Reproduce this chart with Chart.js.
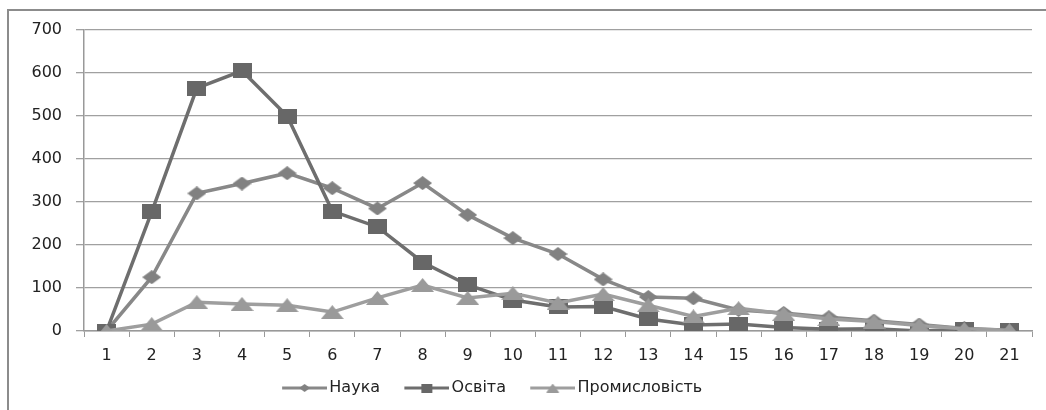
<!DOCTYPE html>
<html>
<head>
<meta charset="utf-8">
<script src="https://cdn.jsdelivr.net/npm/chart.js@4/dist/chart.umd.min.js"></script>
<style>
  html, body { margin: 0; padding: 0; background: #fff; }
  #chart { display: block; }
</style>
</head>
<body>
<canvas id="chart" width="1046" height="410"></canvas>
<script>
// categories on the x axis
const categories = ["1", "2", "3", "4", "5", "6", "7", "8", "9", "10", "11",
  "12", "13", "14", "15", "16", "17", "18", "19", "20", "21"];

// series
const nauka = [0, 125, 320, 343, 367, 332, 285, 344, 270, 216, 179, 120, 79,
  76, 49, 42, 32, 24, 15, 6, 2];
const osvita = [0, 277, 565, 605, 500, 279, 242, 160, 107, 72, 56, 57, 28,
  14, 16, 8, 4, 5, 0, 4, 2];
const promyslovist = [0, 16, 67, 63, 60, 44, 77, 107, 77, 88, 65, 86, 60,
  34, 53, 40, 28, 22, 13, 5, 2];

const seriesNames = ["Наука", "Освіта", "Промисловість"];
const yTicks = [0, 100, 200, 300, 400, 500, 600, 700];

const FONT = "DejaVu Sans";

// marker images (the picture is slightly stretched sideways, so are the marks)
function makeMarker(shape, w, h, color) {
  const c = document.createElement("canvas");
  c.width = w;
  c.height = h;
  const ctx = c.getContext("2d");
  ctx.fillStyle = color;
  ctx.beginPath();
  if (shape === "diamond") {
    ctx.moveTo(w / 2, 0);
    ctx.lineTo(w, h / 2);
    ctx.lineTo(w / 2, h);
    ctx.lineTo(0, h / 2);
  } else if (shape === "square") {
    ctx.rect(0, 0, w, h);
  } else {
    ctx.moveTo(w / 2, 0);
    ctx.lineTo(w, h);
    ctx.lineTo(0, h);
  }
  ctx.closePath();
  ctx.fill();
  return c;
}

// legend sample: short line with a small marker on it
function makeLegendSample(shape, lineColor, markColor) {
  const w = 65, h = 12;
  const c = document.createElement("canvas");
  c.width = w;
  c.height = h;
  const ctx = c.getContext("2d");
  ctx.strokeStyle = lineColor;
  ctx.lineWidth = 3;
  ctx.beginPath();
  ctx.moveTo(20, h / 2);
  ctx.lineTo(65, h / 2);
  ctx.stroke();
  const m = shape === "square" ? makeMarker(shape, 11, 9, markColor)
    : shape === "diamond" ? makeMarker(shape, 11, 8, markColor)
    : makeMarker(shape, 13, 9, markColor);
  ctx.drawImage(m, 42.5 - m.width / 2, h / 2 - m.height / 2);
  return c;
}

const lineColors = ["#888888", "#6e6e6e", "#9e9e9e"];
const markColors = ["#818181", "#676767", "#9a9a9a"];
const shapes = ["diamond", "square", "triangle"];
const markers = [
  makeMarker("diamond", 19, 14, markColors[0]),
  makeMarker("square", 19, 15, markColors[1]),
  makeMarker("triangle", 23, 14, markColors[2]),
];
const legendSamples = shapes.map((s, i) =>
  makeLegendSample(s, lineColors[i], markColors[i]));

const frame = {
  id: "frame",
  beforeDraw(chart) {
    const ctx = chart.ctx;
    ctx.save();
    ctx.fillStyle = "#fff";
    ctx.fillRect(0, 0, chart.width, chart.height);
    ctx.strokeStyle = "#8c8c8c";
    ctx.lineWidth = 2;
    ctx.beginPath();
    ctx.moveTo(8, chart.height);
    ctx.lineTo(8, 10);
    ctx.lineTo(chart.width, 10);
    ctx.stroke();
    ctx.restore();
  },
  afterLayout(chart) {
    // legend sits a little left of centre in the original
    chart.legend.right -= 62;
  },
};

const allData = [nauka, osvita, promyslovist];
const datasets = allData.map((d, i) => ({
  label: seriesNames[i],
  data: d,
  borderColor: lineColors[i],
  backgroundColor: markColors[i],
  borderWidth: 3.5,
  pointStyle: markers[i],
  pointRadius: 8,
  pointHoverRadius: 8,
  tension: 0,
  order: 3 - i,
}));

new Chart(document.getElementById("chart"), {
  type: "line",
  data: { labels: categories, datasets: datasets },
  options: {
    responsive: false,
    animation: false,
    layout: { padding: { left: 0, right: 14, top: 30, bottom: 4 } },
    plugins: {
      tooltip: { enabled: false },
      legend: {
        position: "bottom",
        labels: {
          usePointStyle: true,
          pointStyleWidth: 53.5,
          padding: 10,
          color: "#222",
          font: { family: FONT, size: 16 },
          generateLabels(chart) {
            return chart.data.datasets.map((ds, i) => ({
              text: ds.label,
              pointStyle: legendSamples[i],
              fillStyle: markColors[i],
              strokeStyle: lineColors[i],
              lineWidth: 0,
              fontColor: "#222",
              hidden: !chart.isDatasetVisible(i),
              datasetIndex: i,
            }));
          },
        },
      },
    },
    scales: {
      x: {
        offset: true,
        grid: {
          offset: true,
          drawOnChartArea: false,
          drawTicks: true,
          tickLength: 6,
          color: "#999",
        },
        border: { color: "#999", width: 1.5 },
        ticks: {
          padding: 9,
          color: "#222",
          font: { family: FONT, size: 16 },
        },
        afterFit(scale) { scale.height = 39; },
      },
      y: {
        min: 0,
        max: 700,
        afterBuildTicks(scale) {
          scale.ticks = yTicks.map((v) => ({ value: v }));
        },
        grid: { color: "#a0a0a0", lineWidth: 1.3, tickLength: 8 },
        border: { color: "#999", width: 1.5 },
        ticks: {
          padding: 14,
          color: "#222",
          font: { family: FONT, size: 16 },
        },
        afterFit(scale) { scale.width = 84; },
      },
    },
  },
  plugins: [frame],
});
</script>
</body>
</html>
